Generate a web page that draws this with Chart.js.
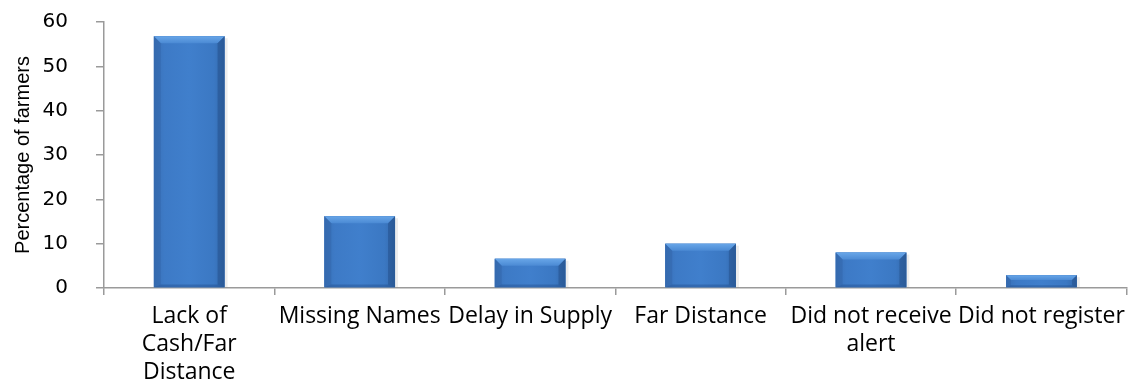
<!DOCTYPE html>
<html>
<head>
<meta charset="utf-8">
<script src="https://cdn.jsdelivr.net/npm/chart.js@4"></script>
<style>
  html, body { margin: 0; padding: 0; background: #fff; }
  #wrap { width: 1132px; height: 381px; position: relative; }
</style>
</head>
<body>
<div id="wrap"><canvas id="reasonChart"></canvas></div>
<script>
// ===========================
// Data
// ===========================
const categories = [
    ["Lack of", "Cash/Far", "Distance"],
    "Missing Names",
    "Delay in Supply",
    "Far Distance",
    ["Did not receive", "alert"],
    "Did not register"
];
const percentValues = [56.8, 16.2, 6.6, 10.0, 8.0, 2.9];
const yTicks = [0, 10, 20, 30, 40, 50, 60];
const yTitle = "Percentage of farmers";

const axisGrey = "#9a9a9a";

// bevel look for the bars (drawn on top of the library's bars)
const bevelPlugin = {
    id: "bevel",
    afterDatasetsDraw(chart) {
        const ctx = chart.ctx;
        const meta = chart.getDatasetMeta(0);
        meta.data.forEach(bar => {
            const left = bar.x - bar.width / 2;
            const right = bar.x + bar.width / 2;
            const top = bar.y;
            const bottom = bar.base;
            const h = bottom - top;
            const e = Math.min(7, h / 2.5);

            ctx.save();
            // soft shadow on the right
            ctx.fillStyle = "rgba(0, 0, 0, 0.07)";
            ctx.fillRect(right, top + 2, 3, h - 2);

            // body gradient
            let g = ctx.createLinearGradient(left, 0, right, 0);
            g.addColorStop(0, "#3a70b6");
            g.addColorStop(0.15, "#3d7ac6");
            g.addColorStop(0.5, "#407fcc");
            g.addColorStop(0.85, "#3b78c3");
            g.addColorStop(1, "#3368aa");
            ctx.fillStyle = g;
            ctx.fillRect(left, top, right - left, h);

            // top bevel (lighter)
            g = ctx.createLinearGradient(0, top, 0, top + e);
            g.addColorStop(0, "#68a6e8");
            g.addColorStop(1, "#4b8ad4");
            ctx.fillStyle = g;
            ctx.beginPath();
            ctx.moveTo(left, top);
            ctx.lineTo(right, top);
            ctx.lineTo(right - e, top + e);
            ctx.lineTo(left + e, top + e);
            ctx.closePath();
            ctx.fill();

            // left bevel
            ctx.fillStyle = "rgba(45, 95, 160, 0.35)";
            ctx.beginPath();
            ctx.moveTo(left, top);
            ctx.lineTo(left + e, top + e);
            ctx.lineTo(left + e, bottom - e * 0.4);
            ctx.lineTo(left, bottom);
            ctx.closePath();
            ctx.fill();

            // right bevel
            ctx.fillStyle = "rgba(30, 70, 125, 0.4)";
            ctx.beginPath();
            ctx.moveTo(right, top);
            ctx.lineTo(right - e, top + e);
            ctx.lineTo(right - e, bottom - e * 0.4);
            ctx.lineTo(right, bottom);
            ctx.closePath();
            ctx.fill();

            // bottom edge
            ctx.fillStyle = "rgba(30, 70, 130, 0.35)";
            ctx.beginPath();
            ctx.moveTo(left, bottom);
            ctx.lineTo(left + e, bottom - e * 0.4);
            ctx.lineTo(right - e, bottom - e * 0.4);
            ctx.lineTo(right, bottom);
            ctx.closePath();
            ctx.fill();
            ctx.restore();
        });
    }
};

new Chart(document.getElementById("reasonChart"), {
    type: "bar",
    data: {
        labels: categories,
        datasets: [{
            data: percentValues,
            backgroundColor: "#3f7ecb",
            borderWidth: 0,
            barPercentage: 0.415,
            categoryPercentage: 1.0
        }]
    },
    options: {
        responsive: true,
        maintainAspectRatio: false,
        animation: false,
        layout: { padding: { top: 22, right: 2, left: 0, bottom: 0 } },
        plugins: {
            legend: { display: false },
            tooltip: { enabled: false }
        },
        scales: {
            x: {
                grid: {
                    drawOnChartArea: false,
                    offset: true,
                    color: axisGrey,
                    tickLength: 7,
                    lineWidth: 1.5
                },
                border: { color: axisGrey, width: 1.5 },
                ticks: {
                    autoSkip: false,
                    maxRotation: 0,
                    padding: 7,
                    color: "#000",
                    font: { family: "'Open Sans'", size: 23, lineHeight: 1.22 }
                },
                afterFit: scale => { scale.height = 93; }
            },
            y: {
                min: 0,
                max: 60,
                afterBuildTicks: scale => {
                    scale.ticks = yTicks.map(v => ({ value: v }));
                },
                grid: {
                    drawOnChartArea: false,
                    color: axisGrey,
                    tickLength: 8,
                    lineWidth: 1.5
                },
                border: { color: axisGrey, width: 1.5 },
                ticks: {
                    padding: 28,
                    color: "#000",
                    font: { family: "'DejaVu Sans'", size: 20 }
                },
                title: {
                    display: true,
                    text: yTitle,
                    color: "#000",
                    padding: { top: 11, bottom: 0 },
                    font: { family: "'Liberation Sans'", size: 20 }
                },
                afterFit: scale => {
                    scale.width = 104;
                    // tick padding would otherwise push the plot down
                    scale.paddingTop = 0;
                    scale.paddingBottom = 0;
                }
            }
        }
    },
    plugins: [bevelPlugin]
});
</script>
</body>
</html>
